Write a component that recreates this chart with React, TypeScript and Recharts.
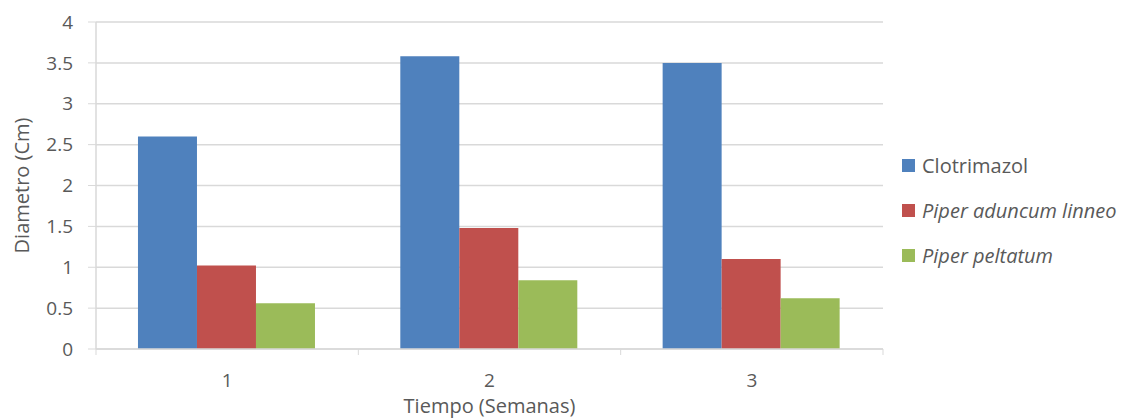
import { BarChart, Bar, XAxis, YAxis, CartesianGrid, Label } from 'recharts';

const weeks = ['1', '2', '3'];
const clotrimazol = [2.6, 3.58, 3.5];
const aduncum = [1.02, 1.48, 1.1];
const peltatum = [0.56, 0.84, 0.62];
const yTicks = [0, 0.5, 1, 1.5, 2, 2.5, 3, 3.5, 4];

const seriesNames = ['Clotrimazol', 'Piper aduncum linneo', 'Piper peltatum'];
const seriesColors = ['#4F81BD', '#C0504D', '#9BBB59'];
const seriesItalic = [false, true, true];

const data = weeks.map((w, i) => ({
  week: w,
  clotrimazol: clotrimazol[i],
  aduncum: aduncum[i],
  peltatum: peltatum[i],
}));

const FONT = '"Open Sans", sans-serif';
const TEXT = '#595959';
const AXIS = '#D9D9D9';

// category ticks: label at centre, tick marks at the band edges
function WeekTick(props: any) {
  const { x, y, payload, index, visibleTicksCount } = props;
  const band = 787 / 3;
  const left = x - band / 2;
  const right = x + band / 2;
  return (
    <g>
      <line x1={left} y1={y - 8} x2={left} y2={y - 2} stroke={AXIS} />
      {index === visibleTicksCount - 1 && (
        <line x1={right} y1={y - 8} x2={right} y2={y - 2} stroke={AXIS} />
      )}
      <text x={x} y={y + 30} textAnchor="middle" fill={TEXT} fontSize={19} fontFamily={FONT}>
        {payload.value}
      </text>
    </g>
  );
}

export default function App() {
  return (
    <div style={{ position: 'absolute', left: 0, top: 0, width: 1134, height: 419, background: '#fff' }}>
      <BarChart
        width={1134}
        height={419}
        data={data}
        margin={{ top: 22, right: 251, bottom: 0, left: 0 }}
        barCategoryGap="16%"
        barGap={0}
      >
        <CartesianGrid vertical={false} stroke={AXIS} strokeWidth={1.5} />
        <XAxis
          dataKey="week"
          axisLine={{ stroke: AXIS, strokeWidth: 1.5 }}
          tickLine={false}
          tick={<WeekTick />}
          interval={0}
          height={70}
        >
          <Label
            value="Tiempo (Semanas)"
            position="insideBottom"
            offset={0}
            dy={-6}
            style={{ fill: TEXT, fontSize: 20, fontFamily: FONT }}
          />
        </XAxis>
        <YAxis
          width={96}
          domain={[0, 4]}
          ticks={yTicks}
          interval={0}
          axisLine={{ stroke: AXIS, strokeWidth: 1.5 }}
          tickLine={{ stroke: AXIS }}
          tickSize={8}
          tickMargin={15}
          tick={{ fill: TEXT, fontSize: 19, fontFamily: FONT }}
        >
          <Label
            value="Diametro (Cm)"
            angle={-90}
            position="insideLeft"
            offset={22}
            style={{ fill: TEXT, fontSize: 20, fontFamily: FONT, textAnchor: 'middle' }}
          />
        </YAxis>
        <Bar dataKey="clotrimazol" name={seriesNames[0]} fill={seriesColors[0]} isAnimationActive={false} />
        <Bar dataKey="aduncum" name={seriesNames[1]} fill={seriesColors[1]} isAnimationActive={false} />
        <Bar dataKey="peltatum" name={seriesNames[2]} fill={seriesColors[2]} isAnimationActive={false} />
      </BarChart>
      <div style={{ position: 'absolute', left: 902, top: 143, fontFamily: FONT, fontSize: 20, color: TEXT }}>
        {seriesNames.map((name, i) => (
          <div key={name} style={{ display: 'flex', alignItems: 'center', height: 45 }}>
            <span style={{ width: 13, height: 13, background: seriesColors[i], marginRight: 7, display: 'inline-block' }} />
            <span style={{ fontStyle: seriesItalic[i] ? 'italic' : 'normal' }}>{name}</span>
          </div>
        ))}
      </div>
    </div>
  );
}
